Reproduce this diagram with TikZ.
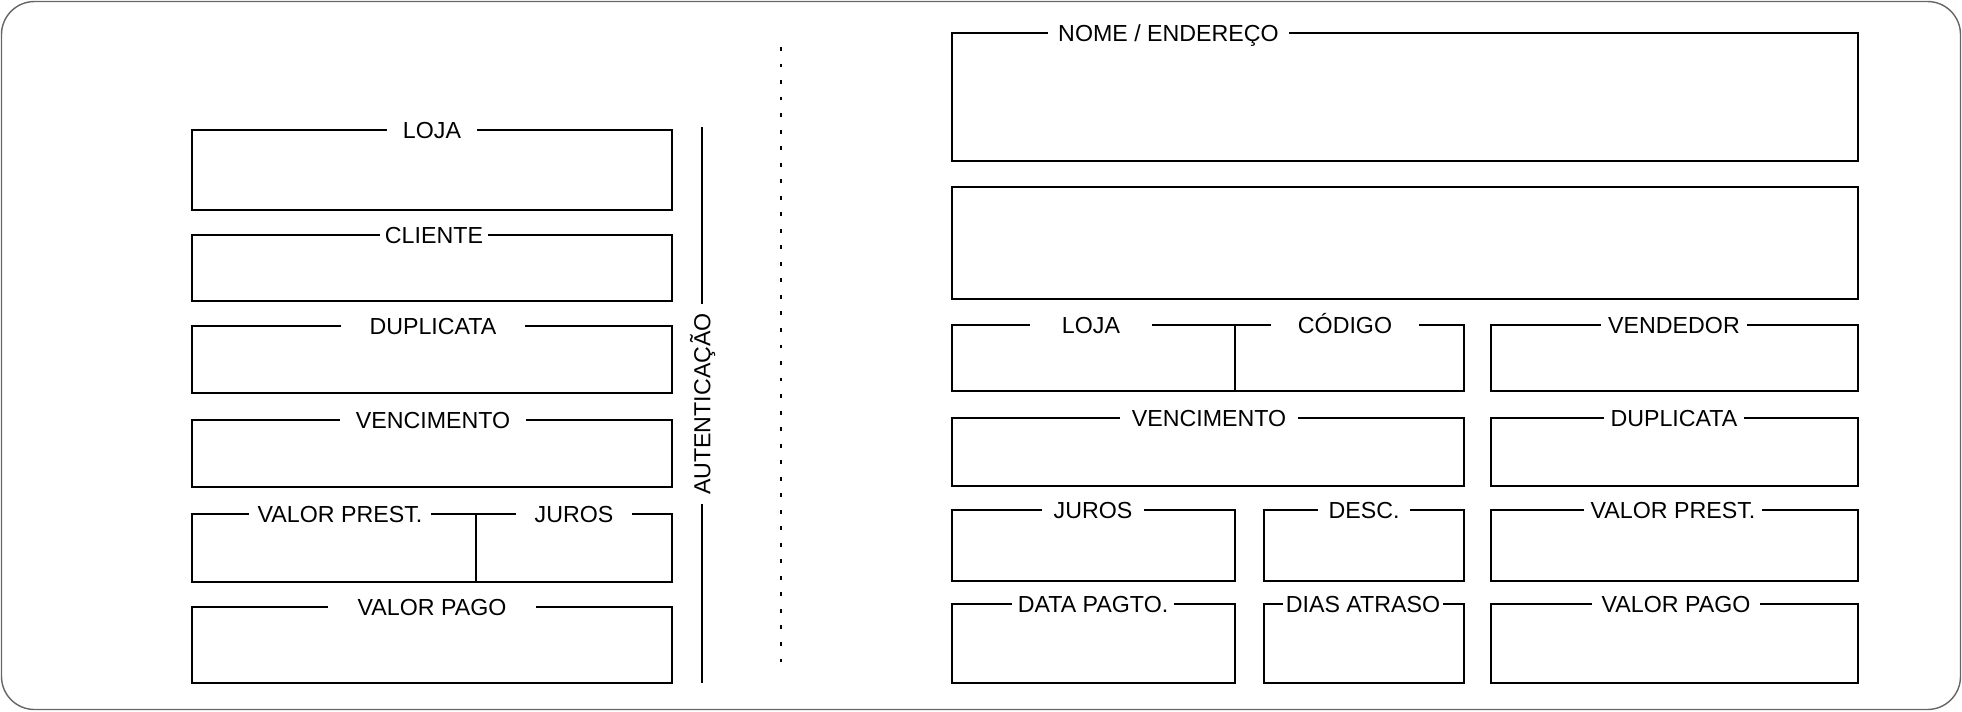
\documentclass[tikz,border=0pt]{standalone}
\usepackage{fontspec}
\setmainfont{Liberation Sans}

\begin{document}
\begin{tikzpicture}[
    x=0.01cm, y=-0.01cm,
    campo/.style={line width=0.57pt},
    rotulo/.style={fill=white, inner sep=0pt, text height=4.8pt, text depth=0pt,
        font=\fontsize{6.6}{8}\selectfont},
    autent/.style={line width=0.85pt},
    corte/.style={line width=0.57pt, dash pattern=on 1.1pt off 3.6pt},
    borda/.style={black!60, line width=0.4pt, rounded corners=0.33cm}
]

\useasboundingbox (0,0) rectangle (1962,711);

% outer border
\draw[borda] (1.5,1.5) rectangle (1960.5,709.5);

% =========================
% CANHOTO (left part)
% =========================
\begin{scope}
    ;
    \foreach \xa/\ya/\xb/\yb in {192/130/672/210, 192/235/672/301, 192/326/672/393,
        192/420/672/487, 192/514/476/582, 476/514/672/582, 192/607/672/683}
        \draw[campo] (\xa,\ya) rectangle (\xb,\yb);

    \foreach \cx/\cy/\larg/\texto [count=\i] in {432/130/89/LOJA, 434/235/107/CLIENTE,
        433/326/184/DUPLICATA, 433/420/185/VENCIMENTO, 340/514/182/VALOR PREST.,
        574/514/116/JUROS, 432/607/207/VALOR PAGO}
        \node[rotulo, minimum width=\larg*0.2845pt] (rotE\i) at (\cx,\cy) {\texto};

    % authentication strip
    \coordinate (autA) at (702,127);
    \coordinate (autB) at (702,683);
    \draw[autent] (autA) -- (autB);
    \node[rotulo, rotate=90, minimum width=199*0.2845pt] (aut) at (702,404) {AUTENTICAÇÃO};
\end{scope}

% =========================
% CUT LINE
% =========================
\coordinate (corteA) at (781,47);
\coordinate (corteB) at (781,663);
\draw[corte] (corteA) -- (corteB);

% =========================
% RECIBO (right part)
% =========================
\begin{scope}
    ;
    \foreach \xa/\ya/\xb/\yb in {952/33/1858/161, 952/187/1858/299,
        952/325/1235/391, 1235/325/1463.5/391, 1491/325/1858/391,
        952/418/1463.5/486, 1491/418/1858/486,
        952/510/1235/581, 1264/510/1463.5/581, 1491/510/1858/581,
        952/604/1235/683, 1264/604/1463.5/683, 1491/604/1858/683}
        \draw[campo] (\xa,\ya) rectangle (\xb,\yb);

    \node[rotulo, minimum width=240*0.2845pt] (rotNome) at (1168.5,33) {NOME / ENDEREÇO};

    \foreach \cx/\cy/\larg/\texto [count=\i] in {1091/325/122/LOJA, 1345/325/147/CÓDIGO,
        1674/325/145/VENDEDOR, 1209/418/178/VENCIMENTO, 1674/418/140/DUPLICATA,
        1093/510/102/JUROS, 1364/510/92/DESC., 1673/510/178/VALOR PREST.,
        1093/604/161/DATA PAGTO., 1363/604/160/DIAS ATRASO, 1676/604/168/VALOR PAGO}
        \node[rotulo, minimum width=\larg*0.2845pt] (rotD\i) at (\cx,\cy) {\texto};
\end{scope}
\end{tikzpicture}
\end{document}
